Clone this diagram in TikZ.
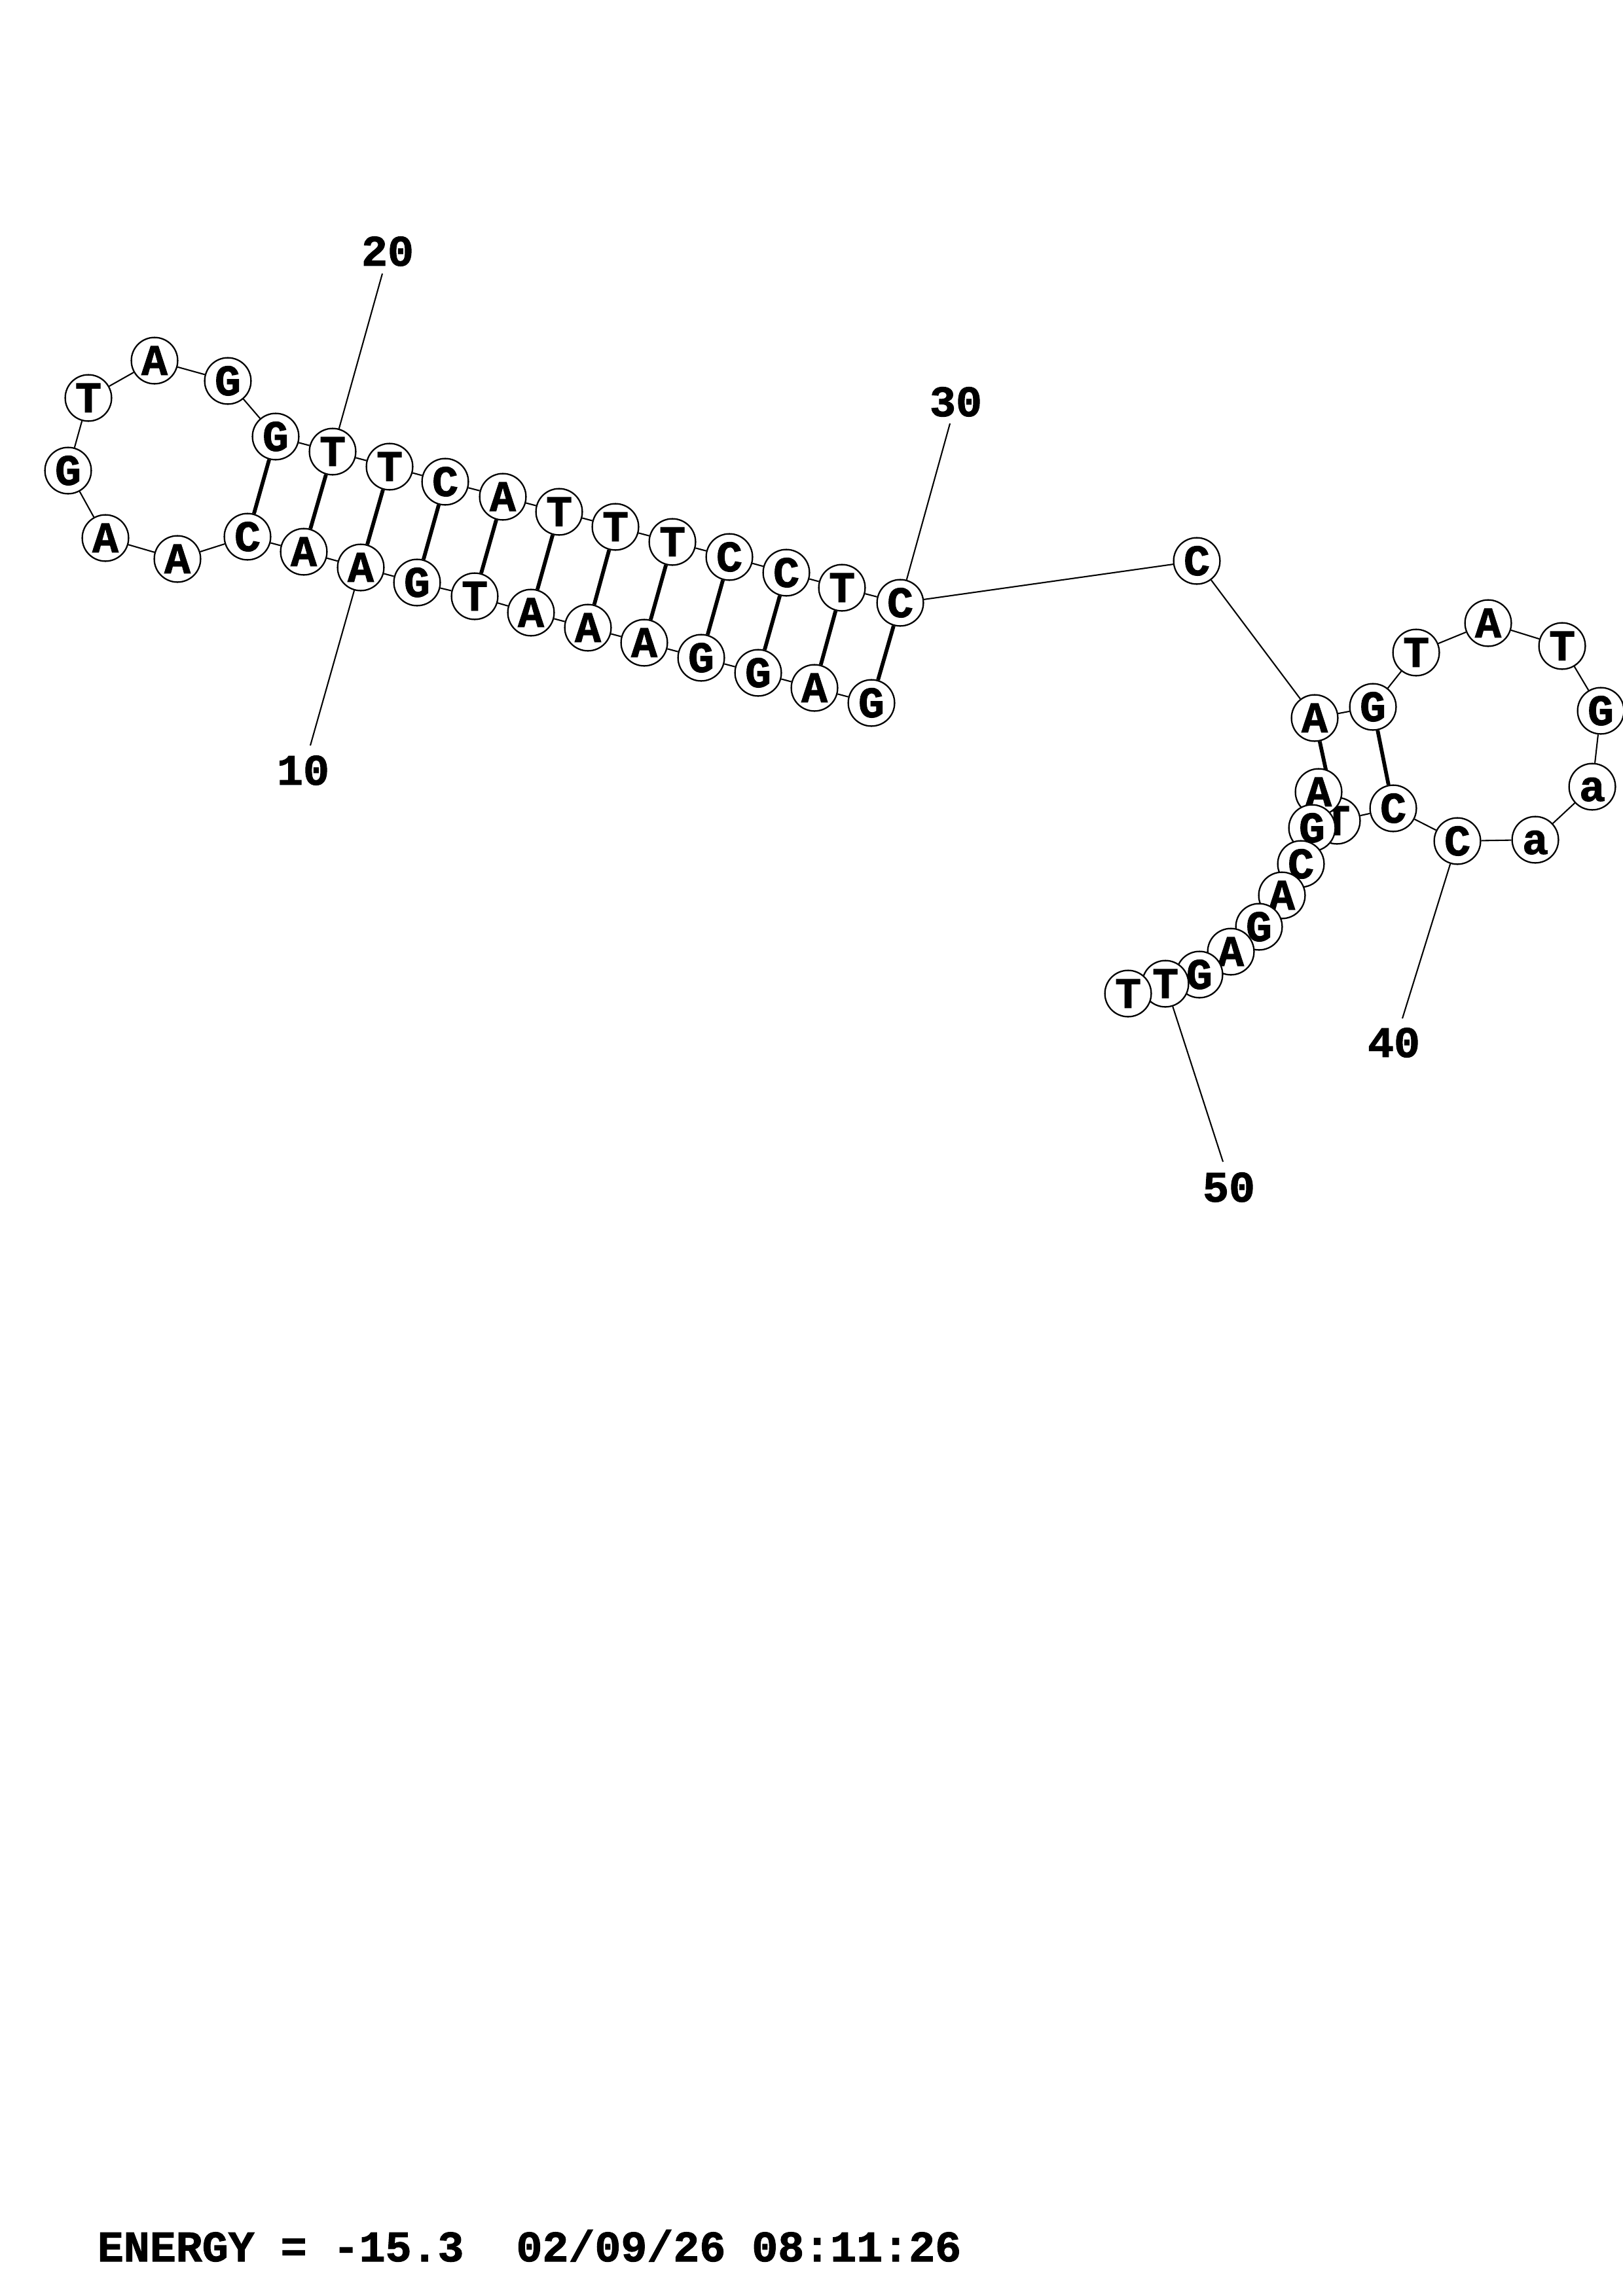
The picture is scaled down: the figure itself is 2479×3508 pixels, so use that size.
\documentclass[tikz,border=0pt]{standalone}
\usepackage{fontspec}
\setmainfont{Liberation Mono}[BoldFeatures={FakeBold=1.5}]
\usetikzlibrary{backgrounds}
\begin{document}
\begin{tikzpicture}[x=0.240127pt,y=-0.240127pt,
  base/.style={circle,draw,fill=white,line width=0.55pt,minimum size=17pt,inner sep=0pt,
    font=\bfseries\fontsize{16}{16}\selectfont,text height=10.5pt,text depth=0pt},
  bb/.style={line width=0.5pt},
  bp/.style={line width=1.4pt},
  lbl/.style={font=\bfseries\fontsize{16}{16}\selectfont,inner sep=0pt},
  tick/.style={line width=0.5pt}]
\useasboundingbox (0,0) rectangle (2479,3508);
\foreach \i/\c/\x/\y in {
 1/G/1331/1074, 2/A/1244/1051, 3/G/1158/1028, 4/G/1071/1005, 5/A/984/982,
 6/A/898/959, 7/A/811/936, 8/T/725/911, 9/G/637/890, 10/A/551/867,
 11/A/464/843, 12/C/378/820, 13/A/271/854, 14/A/161/822, 15/G/104/719,
 16/T/135/608, 17/A/236/551, 18/G/348/582, 19/G/421/667, 20/T/508/690,
 21/T/595/713, 22/C/680/736, 23/A/768/759, 24/T/854/782, 25/T/940/805,
 26/T/1027/828, 27/C/1114/851, 28/C/1201/875, 29/T/1286/898, 30/C/1375/921,
 31/C/1828/857, 32/A/2008/1097, 33/G/2097/1080, 34/T/2163/997, 35/A/2273/952,
 36/T/2386/987, 37/G/2445/1086, 38/a/2432/1202, 39/a/2345/1283, 40/C/2226/1285,
 41/C/2128/1235, 42/T/2042/1254, 43/A/2014/1210, 44/G/2004/1265, 45/C/1987/1320,
 46/A/1958/1368, 47/G/1923/1416, 48/A/1880/1454, 49/G/1832/1489, 50/T/1780/1503,
 51/T/1723/1518}
 \node[base] (n\i) at (\x,\y) {\c};
% number labels
\node[lbl] (l10) at (463,1177) {10};
\node[lbl] (l20) at (592,384) {20};
\node[lbl] (l30) at (1460,614) {30};
\node[lbl] (l40) at (2129,1593) {40};
\node[lbl] (l50) at (1877,1814) {50};
\coordinate (e10) at (474,1139);
\coordinate (e20) at (584,418);
\coordinate (e30) at (1451,647);
\coordinate (e40) at (2142,1556);
\coordinate (e50) at (1868,1775);
\node[lbl,anchor=base west] (energy) at (148,3455) {ENERGY = -15.3\ \ 02/09/26 08:11:26};
\begin{scope}[on background layer]
 \foreach \i in {1,...,50}{\pgfmathtruncatemacro\j{\i+1}\draw[bb] (n\i) -- (n\j);}
 \foreach \a/\b in {1/30,2/29,3/28,4/27,5/26,6/25,7/24,8/23,9/22,10/21,11/20,12/19,32/42,33/41}
  \draw[bp] (n\a) -- (n\b);
 \foreach \k in {10,20,30,40,50} \draw[tick] (n\k) -- (e\k);
\end{scope}
\end{tikzpicture}
\end{document}
